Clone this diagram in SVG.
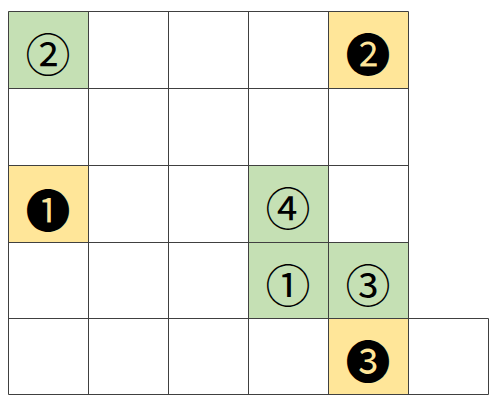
<svg xmlns="http://www.w3.org/2000/svg" width="500" height="403" viewBox="0 0 500 403">
<style>
.g{fill:#c5e0b4}
.y{fill:#ffe699}
.t{font-family:"Noto Sans CJK JP","DejaVu Sans",sans-serif;font-size:45px;text-anchor:middle;fill:#000}
</style>
<rect width="500" height="403" fill="#ffffff"/>
<g id="fills">
<rect class="g" x="8" y="11" width="80" height="77"/>
<rect class="y" x="328" y="11" width="80" height="77"/>
<rect class="y" x="8" y="165" width="80" height="77"/>
<rect class="g" x="248" y="165" width="80" height="77"/>
<rect class="g" x="248" y="242" width="80" height="76"/>
<rect class="g" x="328" y="242" width="80" height="76"/>
<rect class="y" x="328" y="318" width="80" height="76"/>
</g>
<g id="grid" fill="none" stroke="#404040" stroke-width="1">
<path d="M8.5 11.5H408.5M8.5 88.5H408.5M8.5 165.5H408.5M8.5 242.5H408.5M8.5 318.5H488.5M8.5 394.5H488.5"/>
<path d="M8.5 11.5V394.5M88.5 11.5V394.5M168.5 11.5V394.5M248.5 11.5V394.5M328.5 11.5V394.5M408.5 11.5V394.5M488.5 318.5V394.5"/>
</g>
<g id="labels">
<text class="t" x="48" y="72">②</text>
<text class="t" x="368" y="72">❷</text>
<text class="t" x="48" y="228">❶</text>
<text class="t" x="288" y="226">④</text>
<text class="t" x="288" y="303">①</text>
<text class="t" x="368" y="303">③</text>
<text class="t" x="368" y="379">❸</text>
</g>
</svg>
